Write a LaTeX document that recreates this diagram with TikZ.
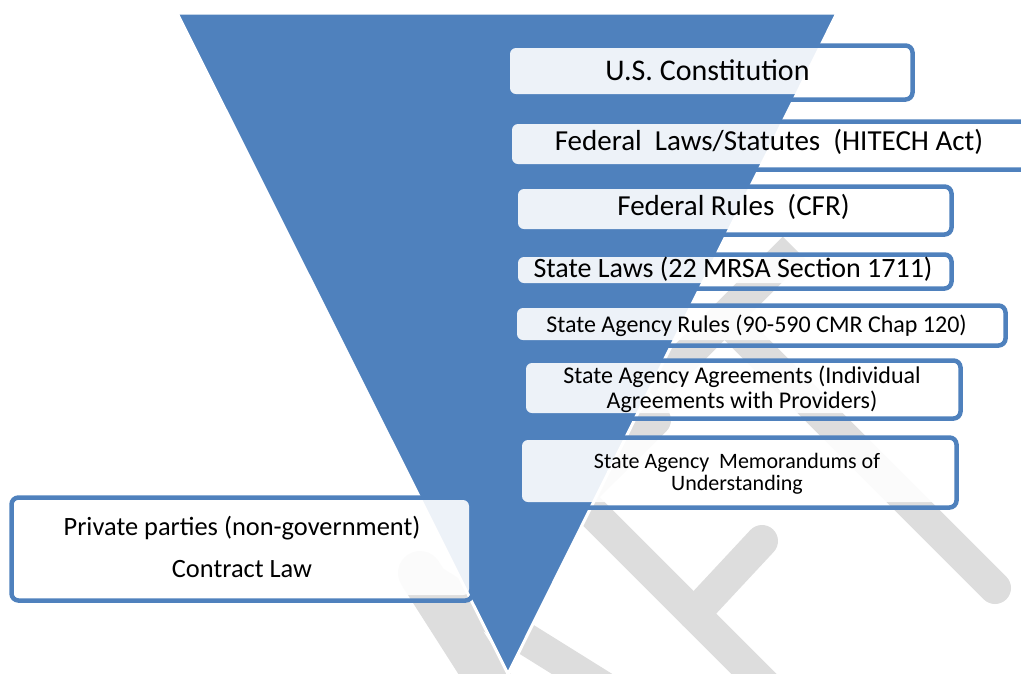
\documentclass[tikz,border=0pt]{standalone}
\usepackage{fontspec}
\setmainfont{Carlito}
\usetikzlibrary{calc}
\definecolor{triblue}{RGB}{79,129,189}
\definecolor{wmgrey}{RGB}{221,221,221}
\newcommand\lawbox[5]{%
  \draw[boxline] ({#2-4.5},{#3-2.5}) rectangle ({#4+3.5},{#5+5.5});
  \node[boxfill, minimum width={(#4-#2)*1pt}, minimum height={(#5-#3)*1pt}] (#1) at ({(#2+#4)/2},{(#3+#5)/2}) {};
}
\begin{document}
\begin{tikzpicture}[x=1pt,y=-1pt,
  wm/.style={draw=wmgrey, line width=32pt, line cap=round},
  boxline/.style={draw=triblue, line width=4.5pt, rounded corners=7pt},
  boxfill/.style={rectangle, fill=white, fill opacity=0.9, draw=none, rounded corners=6pt, inner sep=0pt},
  lbl/.style={anchor=base, text=black, inner sep=0pt, align=center}]
\useasboundingbox (0,0) rectangle (1021,673);
\clip (0,0) rectangle (1021,673);
% watermark (DRAFT, partly hidden)
\draw[wm, line cap=butt] (794,248) -- (650,392);
\draw[wm] (724.5,317.5) -- (995,588);
\draw[wm] (577,497) -- (830,750);
\draw[wm] (577,497) -- (655,420);
\draw[wm] (694,614) -- (762,541);
\draw[wm] (420,573) -- (680,735);
\draw[wm, line width=44pt] (420,573) -- (510,714);
% triangle
\filldraw[fill=triblue, draw=white, line width=3pt, line join=round] (177,13) -- (837,13) -- (508,674) -- cycle;
% boxes
\lawbox{b1}{510}{48}{909}{94}
\lawbox{b2}{512}{124}{1026}{164}
\lawbox{b3}{518}{189}{948}{229}
\lawbox{b4}{518}{257}{948}{283}
\lawbox{b5}{517}{308}{1002}{340}
\lawbox{b6}{526}{363}{957}{413}
\lawbox{b7}{522}{440}{953}{502}
\lawbox{b8}{16}{500}{469}{595}
% texts (base anchor = baseline of the last line)
\node[lbl, font=\fontsize{30}{36}\selectfont] (t1) at (707.5,80) {U.S. Constitution};
\node[lbl, font=\fontsize{29}{35}\selectfont] (t2) at (769,150) {Federal~~Laws/Statutes~~(HITECH Act)};
\node[lbl, font=\fontsize{29}{35}\selectfont] (t3) at (733.5,215) {Federal Rules~~(CFR)};
\node[lbl, font=\fontsize{28}{34}\selectfont] (t4) at (733,277) {State Laws (22 MRSA Section 1711)};
\node[lbl, font=\fontsize{24}{29}\selectfont] (t5) at (756.5,332) {State Agency Rules (90-590 CMR Chap 120)};
\node[lbl, font=\fontsize{24}{25}\selectfont] (t6) at (742,408) {State Agency Agreements (Individual\\Agreements with Providers)};
\node[lbl, font=\fontsize{22}{22}\selectfont] (t7) at (737,490) {State Agency~~Memorandums of\\Understanding};
\node[lbl, font=\fontsize{26.4}{42}\selectfont] (t8) at (242,577) {Private parties (non-government)\\Contract Law};
\end{tikzpicture}
\end{document}
